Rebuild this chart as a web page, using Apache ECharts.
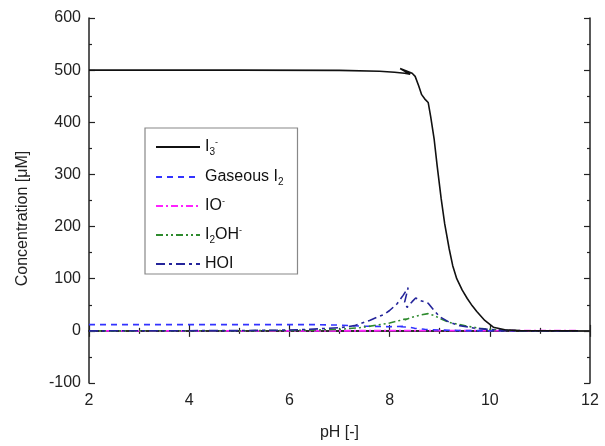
<!DOCTYPE html>
<html><head><meta charset="utf-8">
<script src="https://cdn.jsdelivr.net/npm/echarts@6/dist/echarts.min.js"></script>
<style>html,body{margin:0;padding:0;background:#fff}#c{width:605px;height:446px}</style>
</head><body><div id="c"></div>
<script>
// pH / concentration pairs (µM)
const seriesNames = ['I3-', 'Gaseous I2', 'IO-', 'I2OH-', 'HOI'];
const i3 = [[2,500],[5,500],[7,499.5],[7.8,498],[8.1,496],[8.3,494],[8.41,492],[8.21,503],[8.45,494],[8.51,488],[8.58,470],[8.64,453],[8.7,445],[8.77,438],[8.82,411],[8.89,367],[8.95,316],[9.03,253],[9.1,205],[9.19,157],[9.26,125],[9.34,100],[9.45,78],[9.55,62],[9.65,48],[9.74,37],[9.9,20],[10.07,7],[10.3,2],[10.6,0.5],[11,0.2],[11.76,0]];
const gasI2 = [[2,12],[5,12],[6.5,12],[7,11],[7.5,9],[8,8],[8.3,9],[8.22,8],[8.4,7],[8.5,5],[8.7,3],[9,1.5],[9.5,0.5],[10,0.2],[11.76,0]];
const io = [[2,0],[6,0],[8,0.3],[9,0.5],[10,0.6],[11,0.6],[11.76,0.5]];
const i2oh = [[2,0],[5,0.2],[6,0.8],[6.5,1.5],[7,3],[7.4,6],[7.75,11],[8.0,15],[8.2,20],[8.35,24],[8.3,21],[8.45,26],[8.6,30],[8.77,33],[8.9,29],[9.0,24],[9.2,16],[9.55,9],[9.8,5],[10,3],[10.3,1],[10.6,0.3],[11.76,0]];
const hoi = [[2,0],[5,0.5],[6,1.5],[6.4,3],[7,6],[7.3,10],[7.6,20],[7.9,32],[8.0,39],[8.15,52],[8.27,68],[8.37,83],[8.3,55],[8.35,45],[8.45,56],[8.52,63],[8.62,58],[8.77,53],[8.88,40],[9.0,27],[9.2,16],[9.4,10],[9.7,5],[10,2.5],[10.3,1],[10.6,0.3],[11.76,0]];
const xTicks = [2,4,6,8,10,12];
const yTicks = [-100,0,100,200,300,400,500,600];

const legendRich = {
  'I3-': '{n|I}{sub|3}{sup|-}',
  'Gaseous I2': '{n|Gaseous I}{sub|2}',
  'IO-': '{n|IO}{sup|-}',
  'I2OH-': '{n|I}{sub|2}{n|OH}{sup|-}',
  'HOI': '{n|HOI}'
};
const chart = echarts.init(document.getElementById('c'), null, {renderer:'canvas'});
const axCol = '#222';
const font = 'Liberation Sans, Arial, sans-serif';
const mkSeries = (name, data, color, type, w) => ({
  name, type:'line', data, symbol:'none', showSymbol:false, smooth:false, xAxisIndex:0, yAxisIndex:0,
  lineStyle:{color, width:w, type}, itemStyle:{color}
});
const tick = {show:true, inside:true, length:6, lineStyle:{color:axCol, width:1.2}};
const minor = {show:true, splitNumber:2, length:3, lineStyle:{color:axCol, width:1.2}};
chart.setOption({
  animation:false,
  backgroundColor:'#fff',
  grid:{left:89, right:15, top:18, bottom:61},
  legend:{
    orient:'vertical', left:145, top:128, itemWidth:44, itemHeight:12, itemGap:10,
    padding:[9,14,1,10],
    borderColor:'#888', borderWidth:1.2, backgroundColor:'#fff',
    itemStyle:{opacity:0},
    data: seriesNames,
    formatter: n => legendRich[n],
    textStyle:{
      fontFamily:font, fontSize:16, color:'#111', lineHeight:18,
      rich:{
        n:{fontFamily:font, fontSize:16, color:'#111', lineHeight:18},
        sub:{fontFamily:font, fontSize:10, color:'#111', padding:[10,0,0,0], lineHeight:18},
        sup:{fontFamily:font, fontSize:9, color:'#111', padding:[0,0,8,0], lineHeight:18}
      }
    }
  },
  xAxis:[{
    type:'value', min:2, max:12, interval:2, position:'bottom',
    name:'pH [-]', nameLocation:'middle', nameGap:42,
    nameTextStyle:{fontFamily:font, fontSize:16, color:'#222'},
    axisLine:{show:true, lineStyle:{color:axCol, width:1.5}},
    axisTick:tick, minorTick:minor,
    axisLabel:{fontFamily:font, fontSize:16, color:'#222', margin:10},
    splitLine:{show:false}
  },{
    type:'value', min:2, max:12, interval:2, position:'top',
    axisLine:{show:true, lineStyle:{color:axCol, width:1.5}},
    axisTick:tick, minorTick:minor,
    axisLabel:{show:false}, splitLine:{show:false}
  }],
  yAxis:[{
    type:'value', min:-100, max:600, interval:100, position:'left',
    name:'Concentration [\u03bcM]', nameLocation:'middle', nameGap:58, nameRotate:90,
    nameTextStyle:{fontFamily:font, fontSize:16, color:'#222', padding:[0,36,0,0]},
    axisLine:{show:true, lineStyle:{color:axCol, width:1.5}},
    axisTick:tick, minorTick:minor,
    axisLabel:{fontFamily:font, fontSize:16, color:'#222', margin:8},
    splitLine:{show:false}
  },{
    type:'value', min:-100, max:600, interval:100, position:'right',
    axisLine:{show:true, lineStyle:{color:axCol, width:1.5}},
    axisTick:tick, minorTick:minor,
    axisLabel:{show:false}, splitLine:{show:false}
  }],
  series:[
    mkSeries('IO-', io, '#ff22ff', [7,3,2,3], 1.8),
    mkSeries('Gaseous I2', gasI2, '#3333ff', [6,5], 1.6),
    mkSeries('I2OH-', i2oh, '#2e8b2e', [7,3,2,3,2,3], 1.6),
    mkSeries('HOI', hoi, '#24249a', [9,4,3,4], 1.6),
    mkSeries('I3-', i3, '#111', 'solid', 1.6)
  ]
});
</script></body></html>
